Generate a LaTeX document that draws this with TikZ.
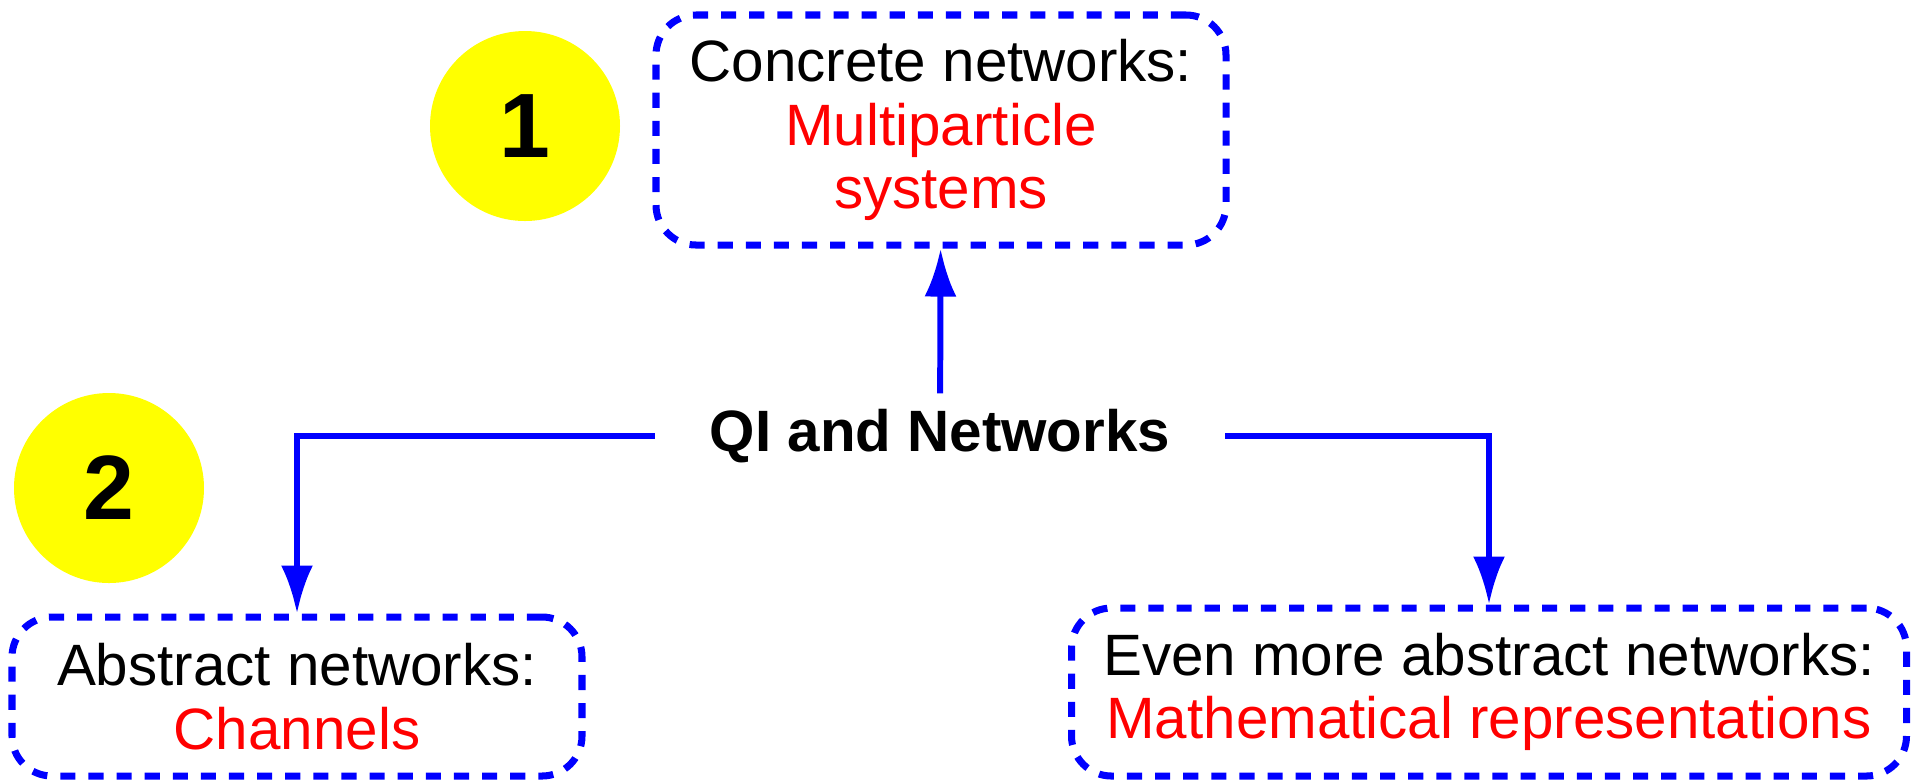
\documentclass[tikz,border=0pt]{standalone}
\usepackage{fontspec}
\setmainfont{Liberation Sans}
\usepackage{tikz}
\usetikzlibrary{arrows.meta,positioning,calc}
\usepackage{xcolor}
\definecolor{badgeyellow}{RGB}{255,255,0}
\definecolor{linkblue}{RGB}{0,0,255}
\definecolor{textred}{RGB}{255,0,0}

\begin{document}
\begin{tikzpicture}[
      topic/.style={draw=linkblue, line width=2pt, dash pattern=on 4.3pt off 3.7pt, rounded corners=0.4cm, align=center, inner sep=0pt, font=\fontsize{16.6}{18}\selectfont},
      badge/.style={circle, fill=badgeyellow, minimum size=1.9cm, inner sep=0pt, font=\fontsize{26}{28}\selectfont\bfseries},
      hub/.style={minimum width=5.69cm, minimum height=0.84cm, inner sep=0pt, font=\fontsize{16.6}{18}\selectfont\bfseries},
      arrowstyle/.style={-{Latex[length=0.48cm, width=0.32cm]}, linkblue, line width=1.7pt}
    ]
    \useasboundingbox (0,0) rectangle (19.17,-7.81);
    \node[topic, minimum width=5.70cm, minimum height=2.30cm] (concrete) at (9.41,-1.30) {Concrete networks:\\\textcolor{textred}{Multiparticle}\\\textcolor{textred}{systems}};
    \node[badge] (one) at (5.25,-1.26) {1};
    \node[badge] (two) at (1.09,-4.88) {2};
    \node[hub] (qi) at (9.40,-4.36) {QI and Networks};
    \node[topic, minimum width=5.70cm, minimum height=1.59cm] (abstract) at (2.97,-6.965) {Abstract networks:\\\textcolor{textred}{Channels}};
    \node[topic, minimum width=8.35cm, minimum height=1.68cm] (moreabstract) at (14.89,-6.92) {Even more abstract networks:\\\textcolor{textred}{Mathematical representations}};

    \draw[arrowstyle] (qi) -- (concrete);
    \draw[arrowstyle] (qi.west) -| (abstract.north);
    \draw[arrowstyle] (qi.east) -| (moreabstract.north);
  \end{tikzpicture}
\end{document}
